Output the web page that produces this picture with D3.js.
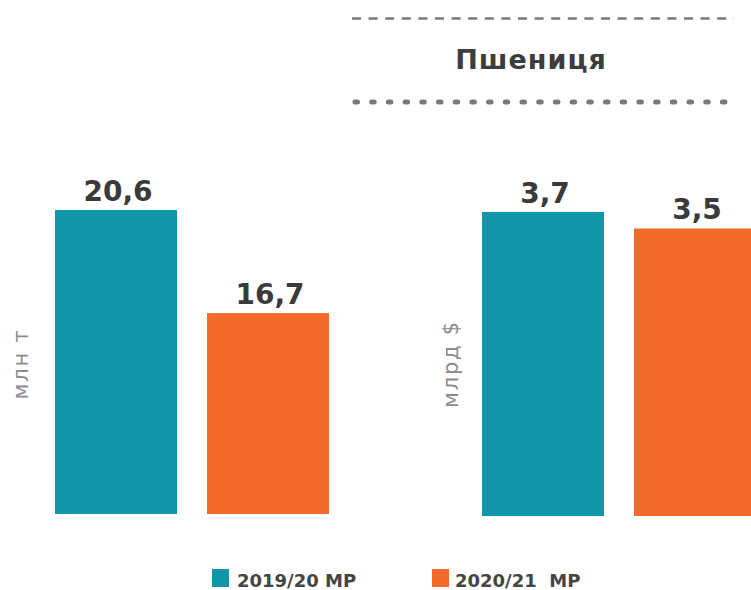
<!DOCTYPE html>
<html>
<head>
<meta charset="utf-8">
<script src="https://cdn.jsdelivr.net/npm/d3@7"></script>
<style>
	body { margin: 0; background: #fff; }
	svg { display: block; font-family: 'DejaVu Sans', sans-serif; }
</style>
</head>
<body>
<div id="chart"></div>
<script>
// seasons and values
const seasons = ['2019/20 МР', '2020/21  МР']
const volume = [20.6, 16.7] // млн т
const revenue = [3.7, 3.5] // млрд $
const title = 'Пшениця'
const units = ['млн т', 'млрд $']

const colors = ['#1096a8', '#f36b2b']

const width = 751
const height = 590

const svg = d3.select('#chart')
	.append('svg')
	.attr('width', width)
	.attr('height', height)

const fmt = v => d3.format('.1f')(v).replace('.', ',')

// title between two dotted rules
const rules = svg.append('g').attr('stroke', '#7a7a7a')
rules.append('line')
	.attr('x1', 352).attr('x2', 734)
	.attr('y1', 18.5).attr('y2', 18.5)
	.attr('stroke-width', 2.5)
	.attr('stroke-dasharray', '9 7.6')
rules.append('line')
	.attr('x1', 355).attr('x2', 734)
	.attr('y1', 102).attr('y2', 102)
	.attr('stroke-width', 5)
	.attr('stroke-linecap', 'round')
	.attr('stroke-dasharray', '2.5 14.2')

svg.append('text')
	.attr('x', 531)
	.attr('y', 69)
	.attr('text-anchor', 'middle')
	.attr('font-size', 27)
	.attr('font-weight', 'bold')
	.attr('letter-spacing', 1)
	.attr('fill', '#3d3d3d')
	.text(title)

const panels = [
	{ values: volume, unit: units[0], x0: 55, bottom: 514, min: 9.1, labelX: 21 },
	{ values: revenue, unit: units[1], x0: 482, bottom: 516, min: 0, labelX: 451 }
]

panels.forEach(p => {
	const x = d3.scaleBand()
		.domain(seasons)
		.range([p.x0, p.x0 + 274])
		.paddingInner(30 / 152)

	const y = d3.scaleLinear()
		.domain([p.min, d3.max(p.values)])
		.range([p.bottom, p.bottom - 304])

	const g = svg.append('g')

	g.selectAll('rect')
		.data(p.values)
		.join('rect')
		.attr('x', (d, i) => x(seasons[i]))
		.attr('y', d => y(d))
		.attr('width', x.bandwidth())
		.attr('height', d => y(p.min) - y(d))
		.attr('fill', (d, i) => colors[i])

	g.selectAll('text.value')
		.data(p.values)
		.join('text')
		.attr('class', 'value')
		.attr('x', (d, i) => x(seasons[i]) + x.bandwidth() / 2 + 2)
		.attr('y', d => y(d) - 9)
		.attr('text-anchor', 'middle')
		.attr('font-size', 28)
		.attr('font-weight', 'bold')
		.attr('fill', '#3a3a3a')
		.text(d => fmt(d))

	g.append('text')
		.attr('transform', `translate(${p.labelX},364) rotate(-90)`)
		.attr('text-anchor', 'middle')
		.attr('dominant-baseline', 'central')
		.attr('font-size', 21)
		.attr('letter-spacing', 1.8)
		.attr('fill', '#8c8c8c')
		.text(p.unit)
})

// legend
const legend = svg.append('g')
	.selectAll('g')
	.data(seasons)
	.join('g')
	.attr('transform', (d, i) => `translate(${[212, 432][i]},569)`)

legend.append('rect')
	.attr('width', 17)
	.attr('height', 18)
	.attr('fill', (d, i) => colors[i])

legend.append('text')
	.attr('x', (d, i) => [25, 23][i])
	.attr('y', 18)
	.attr('font-size', 18)
	.attr('font-weight', 'bold')
	.attr('fill', '#454545')
	.attr('xml:space', 'preserve')
	.style('white-space', 'pre')
	.text(d => d)
</script>
</body>
</html>
